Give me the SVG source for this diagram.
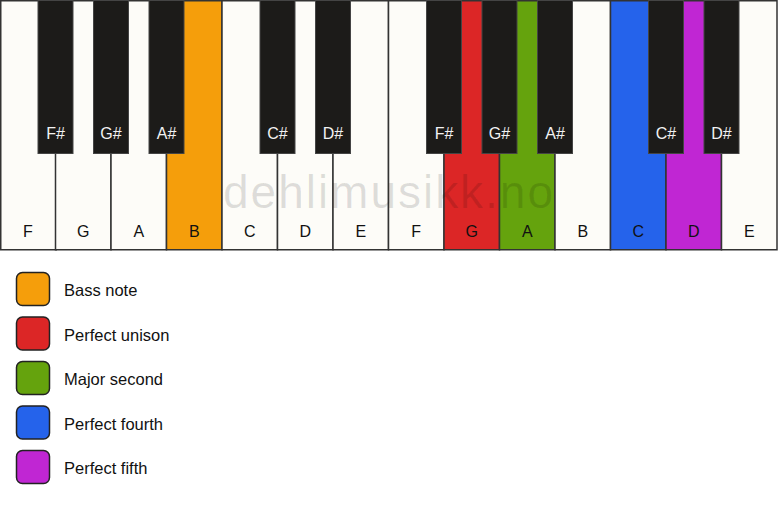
<svg xmlns="http://www.w3.org/2000/svg" width="778" height="506" viewBox="0 0 778 506">
<style>
.w{fill:#fdfcf8;stroke:#333;stroke-width:1.5}
.b{fill:#1c1b19;stroke:#444;stroke-width:1}
.lw{font-family:"Liberation Sans",Arial,sans-serif;font-size:16px;fill:#111;text-anchor:middle}
.lb{font-family:"Liberation Sans",Arial,sans-serif;font-size:16px;fill:#f2f2f2;text-anchor:middle}
.sw{stroke:#222;stroke-width:1.5}
.lg{font-family:"Liberation Sans",Arial,sans-serif;font-size:16.5px;fill:#111}
.wm{font-family:"Liberation Sans",Arial,sans-serif;font-size:46px;fill:#000;fill-opacity:0.12}
</style>
<rect width="778" height="506" fill="#ffffff"/>
<g id="white-keys">
<g id="key-F1"><rect class="w" x="0.75" y="0.75" width="55.5" height="249"/><text class="lw" x="28" y="237">F</text></g>
<g id="key-G1"><rect class="w" x="55.5" y="0.75" width="55.5" height="249"/><text class="lw" x="83.25" y="237">G</text></g>
<g id="key-A1"><rect class="w" x="111" y="0.75" width="55.5" height="249"/><text class="lw" x="138.75" y="237">A</text></g>
<g id="key-B1"><rect class="w" x="166.5" y="0.75" width="55.5" height="249" style="fill:#f59e0b"/><text class="lw" x="194.25" y="237">B</text></g>
<g id="key-C1"><rect class="w" x="222" y="0.75" width="55.5" height="249"/><text class="lw" x="249.75" y="237">C</text></g>
<g id="key-D1"><rect class="w" x="277.5" y="0.75" width="55.5" height="249"/><text class="lw" x="305.25" y="237">D</text></g>
<g id="key-E1"><rect class="w" x="333" y="0.75" width="55.5" height="249"/><text class="lw" x="360.75" y="237">E</text></g>
<g id="key-F2"><rect class="w" x="388.5" y="0.75" width="55.5" height="249"/><text class="lw" x="416.25" y="237">F</text></g>
<g id="key-G2"><rect class="w" x="444" y="0.75" width="55.5" height="249" style="fill:#dc2626"/><text class="lw" x="471.75" y="237">G</text></g>
<g id="key-A2"><rect class="w" x="499.5" y="0.75" width="55.5" height="249" style="fill:#65a30d"/><text class="lw" x="527.25" y="237">A</text></g>
<g id="key-B2"><rect class="w" x="555" y="0.75" width="55.5" height="249"/><text class="lw" x="582.75" y="237">B</text></g>
<g id="key-C2"><rect class="w" x="610.5" y="0.75" width="55.5" height="249" style="fill:#2563eb"/><text class="lw" x="638.25" y="237">C</text></g>
<g id="key-D2"><rect class="w" x="666" y="0.75" width="55.5" height="249" style="fill:#c026d3"/><text class="lw" x="693.75" y="237">D</text></g>
<g id="key-E2"><rect class="w" x="721.5" y="0.75" width="55.5" height="249"/><text class="lw" x="749.25" y="237">E</text></g>
</g>
<text class="wm" x="223" y="208" textLength="330" lengthAdjust="spacing">dehlimusikk.no</text>
<g id="black-keys">
<g id="key-Fs1"><rect class="b" x="38" y="0.5" width="35" height="153"/><text class="lb" x="55.5" y="139">F#</text></g>
<g id="key-Gs1"><rect class="b" x="93.5" y="0.5" width="35" height="153"/><text class="lb" x="111" y="139">G#</text></g>
<g id="key-As1"><rect class="b" x="149" y="0.5" width="35" height="153"/><text class="lb" x="166.5" y="139">A#</text></g>
<g id="key-Cs1"><rect class="b" x="260" y="0.5" width="35" height="153"/><text class="lb" x="277.5" y="139">C#</text></g>
<g id="key-Ds1"><rect class="b" x="315.5" y="0.5" width="35" height="153"/><text class="lb" x="333" y="139">D#</text></g>
<g id="key-Fs2"><rect class="b" x="426.5" y="0.5" width="35" height="153"/><text class="lb" x="444" y="139">F#</text></g>
<g id="key-Gs2"><rect class="b" x="482" y="0.5" width="35" height="153"/><text class="lb" x="499.5" y="139">G#</text></g>
<g id="key-As2"><rect class="b" x="537.5" y="0.5" width="35" height="153"/><text class="lb" x="555" y="139">A#</text></g>
<g id="key-Cs2"><rect class="b" x="648.5" y="0.5" width="35" height="153"/><text class="lb" x="666" y="139">C#</text></g>
<g id="key-Ds2"><rect class="b" x="704" y="0.5" width="35" height="153"/><text class="lb" x="721.5" y="139">D#</text></g>
</g>
<g id="legend">
<g id="legend-bass"><rect class="sw" x="16.5" y="272.5" width="33" height="33" rx="6" fill="#f59e0b"/><text class="lg" x="64" y="296">Bass note</text></g>
<g id="legend-unison"><rect class="sw" x="16.5" y="317" width="33" height="33" rx="6" fill="#dc2626"/><text class="lg" x="64" y="340.5">Perfect unison</text></g>
<g id="legend-second"><rect class="sw" x="16.5" y="361.5" width="33" height="33" rx="6" fill="#65a30d"/><text class="lg" x="64" y="385">Major second</text></g>
<g id="legend-fourth"><rect class="sw" x="16.5" y="406" width="33" height="33" rx="6" fill="#2563eb"/><text class="lg" x="64" y="429.5">Perfect fourth</text></g>
<g id="legend-fifth"><rect class="sw" x="16.5" y="450.5" width="33" height="33" rx="6" fill="#c026d3"/><text class="lg" x="64" y="474">Perfect fifth</text></g>
</g>
</svg>
